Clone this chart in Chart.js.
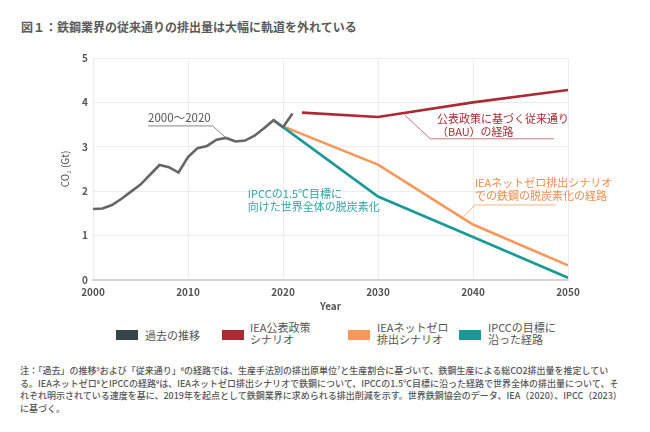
<!DOCTYPE html>
<html>
<head>
<meta charset="utf-8">
<script src="https://cdn.jsdelivr.net/npm/chart.js@4"></script>
<style>
	body { margin: 0; width: 650px; height: 432px; position: relative; background: #fff; font-family: "Noto Sans CJK JP", "Noto Sans", sans-serif; color: #555; }
	#title { position: absolute; left: 21px; top: 18px; font-size: 12px; font-weight: bold; color: #5a5a5a; }
	#chart { position: absolute; left: 0; top: 0; }
	.sw { position: absolute; top: 330px; width: 22px; height: 10px; }
	.lg { position: absolute; font-size: 11px; line-height: 12px; color: #555; white-space: nowrap; }
	#note { position: absolute; left: 20px; top: 365px; font-size: 9px; line-height: 12.5px; color: #555; white-space: nowrap; font-weight: 500; }
</style>
</head>
<body>
<div id="title">図１：鉄鋼業界の従来通りの排出量は大幅に軌道を外れている</div>
<canvas id="chart" width="650" height="316"></canvas>

<div class="sw" style="left:116px;background:#36454a"></div>
<div class="lg" style="left:145px;top:329px">過去の推移</div>
<div class="sw" style="left:222px;background:#a92b35"></div>
<div class="lg" style="left:250px;top:321px">IEA公表政策<br>シナリオ</div>
<div class="sw" style="left:348px;background:#f5985a"></div>
<div class="lg" style="left:377px;top:321px">IEAネットゼロ<br>排出シナリオ</div>
<div class="sw" style="left:459px;background:#1a9a96"></div>
<div class="lg" style="left:488px;top:321px">IPCCの目標に<br>沿った経路</div>

<div id="note">注：「過去」の推移⁵および「従来通り」⁶の経路では、生産手法別の排出原単位⁷と生産割合に基づいて、鉄鋼生産による総CO2排出量を推定してい<br>る。IEAネットゼロ⁸とIPCCの経路⁹は、IEAネットゼロ排出シナリオで鉄鋼について、IPCCの1.5℃目標に沿った経路で世界全体の排出量について、そ<br>れぞれ明示されている速度を基に、2019年を起点として鉄鋼業界に求められる排出削減を示す。世界鉄鋼協会のデータ、IEA（2020）、IPCC（2023）<br>に基づく。</div>

<script>
const histYears = [2000, 2001, 2002, 2003, 2004, 2005, 2006, 2007, 2008, 2009, 2010, 2011, 2012, 2013, 2014, 2015, 2016, 2017, 2018, 2019, 2020, 2021]
const histValues = [1.60, 1.61, 1.69, 1.83, 1.99, 2.15, 2.37, 2.59, 2.54, 2.42, 2.77, 2.97, 3.02, 3.16, 3.20, 3.12, 3.14, 3.25, 3.42, 3.60, 3.44, 3.75]

const bauYears = [2022, 2030, 2040, 2050]
const bauValues = [3.77, 3.67, 4.00, 4.28]

const ieaYears = [2020, 2030, 2040, 2050]
const ieaValues = [3.46, 2.60, 1.25, 0.33]

const ipccYears = [2019, 2030, 2040, 2050]
const ipccValues = [3.60, 1.88, 0.97, 0.05]

const xTicks = [2000, 2010, 2020, 2030, 2040, 2050]

function toPoints(xs, ys) {
	return xs.map((x, i) => ({ x, y: ys[i] }))
}

function lineDataset(label, xs, ys, color) {
	return {
		label,
		data: toPoints(xs, ys),
		borderColor: color,
		backgroundColor: color,
		borderWidth: 2.6,
		pointRadius: 0,
		tension: 0,
	}
}

// callout labels, anchored in data units
const notes = [
	{ text: ["2000～2020"], at: [2005.8, 3.66], color: "#555", size: 11.5, line: "#888",
		leader: [[2005.8, 3.47], [2012.6, 3.47], [2014, 3.2]] },
	{ text: ["IPCCの1.5℃目標に", "向けた世界全体の脱炭素化"], at: [2016.3, 1.94], color: "#2aa5a3", size: 11 },
	{ text: ["公表政策に基づく従来通り", "（BAU）の経路"], at: [2036.2, 3.63], color: "#a92b35", size: 11, line: "#c9787d",
		leader: [[2032.8, 3.72], [2035.5, 3.18], [2048.5, 3.18]] },
	{ text: ["IEAネットゼロ排出シナリオ", "での鉄鋼の脱炭素化の経路"], at: [2040.2, 2.18], color: "#f08c4c", size: 11, line: "#f5b488",
		leader: [[2039.0, 1.42], [2040.2, 1.69], [2048.7, 1.69]] },
]

const calloutPlugin = {
	id: "callouts",
	afterDatasetsDraw(chart) {
		const { ctx, scales } = chart
		const px = (v) => scales.x.getPixelForValue(v)
		const py = (v) => scales.y.getPixelForValue(v)
		ctx.save()
		notes.forEach((n) => {
			if (n.leader) {
				ctx.strokeStyle = n.line
				ctx.lineWidth = 1
				ctx.beginPath()
				n.leader.forEach((p, i) => {
					if (i === 0) ctx.moveTo(px(p[0]), py(p[1]))
					else ctx.lineTo(px(p[0]), py(p[1]))
				})
				ctx.stroke()
			}
			ctx.fillStyle = n.color
			ctx.font = n.size + 'px "Noto Sans CJK JP"'
			ctx.textBaseline = "middle"
			ctx.textAlign = "left"
			n.text.forEach((t, i) => {
				ctx.fillText(t, px(n.at[0]), py(n.at[1]) + i * 12.5)
			})
		})
		ctx.restore()
	},
}

const tickFont = { family: '"Noto Sans CJK JP"', size: 10, weight: "bold" }

new Chart(document.getElementById("chart"), {
	type: "line",
	data: {
		datasets: [
			lineDataset("過去の推移", histYears, histValues, "#666666"),
			lineDataset("IPCCの目標に沿った経路", ipccYears, ipccValues, "#1a9a96"),
			lineDataset("IEAネットゼロ排出シナリオ", ieaYears, ieaValues, "#f5985a"),
			lineDataset("IEA公表政策シナリオ", bauYears, bauValues, "#a92b35"),
		],
	},
	options: {
		responsive: false,
		animation: false,
		layout: { padding: { top: 58, right: 82, left: 0, bottom: 0 } },
		plugins: { legend: { display: false }, tooltip: { enabled: false } },
		scales: {
			x: {
				type: "linear",
				min: 2000,
				max: 2050,
				afterBuildTicks: (scale) => { scale.ticks = xTicks.map((v) => ({ value: v })) },
				afterFit: (scale) => { scale.height = 36 },
				ticks: { color: "#555", font: tickFont, padding: 6, callback: (v) => String(v) },
				grid: { color: "#ececec", drawTicks: false },
				border: { color: "#d4d4d4", width: 2 },
				title: { display: true, text: "Year", color: "#555", font: tickFont, padding: { top: 2, bottom: 4 } },
			},
			y: {
				min: 0,
				max: 5,
				ticks: { stepSize: 1, color: "#555", font: tickFont, padding: 5 },
				afterFit: (scale) => { scale.width = 93 },
				grid: { color: "#ececec", drawTicks: false },
				border: { display: false },
				title: { display: true, text: "CO₂ (Gt)", color: "#555", font: { family: '"Noto Sans CJK JP"', size: 10 }, padding: { top: 59, bottom: 0 } },
			},
		},
	},
	plugins: [calloutPlugin],
})
</script>
</body>
</html>
